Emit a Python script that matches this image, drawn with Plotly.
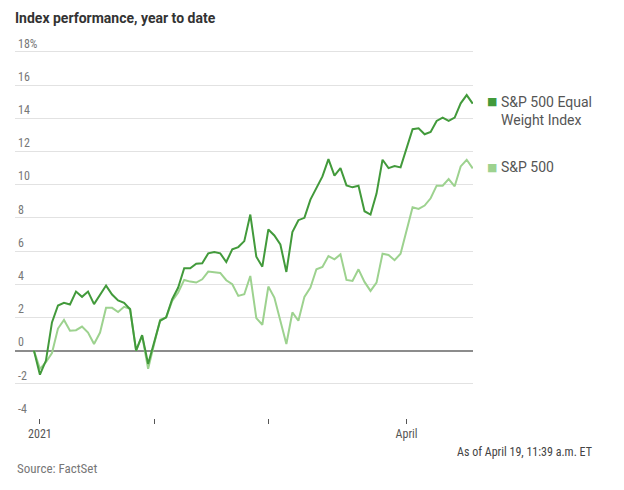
import plotly.graph_objects as go

# Trading-day index: 0 = Dec 31 2020 baseline, 73 = Apr 19 2021
day_index = list(range(74))

equal_weight = [0, -1.45, -0.6, 1.7, 2.72, 2.88, 2.78, 3.56, 3.24, 3.56,
                2.8, 3.34, 3.92, 3.38, 3.02, 2.88, 2.49, 0.0, 0.93, -0.8,
                0.45, 1.8, 2.0, 3.1, 3.8, 4.96, 4.96, 5.24, 5.26, 5.86,
                5.94, 5.86, 5.34, 6.1, 6.24, 6.6, 8.2, 5.66, 5.06, 7.3,
                6.94, 6.4, 4.74, 7.14, 7.86, 8.0, 9.1, 9.8, 10.5, 11.54,
                10.54, 11.0, 9.96, 9.84, 9.94, 8.4, 8.2, 9.46, 11.5, 11.0,
                11.12, 11.04, 12.2, 13.34, 13.4, 13.04, 13.18, 13.84, 14.04, 13.84,
                14.04, 14.9, 15.4, 14.88]

sp500 = [0, -1.1, -0.7, -0.15, 1.33, 1.85, 1.2, 1.23, 1.45, 1.09,
         0.4, 1.09, 2.58, 2.58, 2.33, 2.64, 2.52, 0.0, 0.9, -1.1,
         0.4, 1.86, 2.0, 3.0, 3.5, 4.26, 4.16, 4.1, 4.3, 4.76,
         4.72, 4.68, 4.24, 4.0, 3.3, 3.4, 4.5, 1.96, 1.56, 3.86,
         3.2, 1.8, 0.4, 2.3, 1.8, 3.24, 3.8, 4.9, 5.04, 5.7,
         5.5, 5.8, 4.26, 4.2, 4.9, 4.14, 3.6, 4.1, 5.84, 5.76,
         5.45, 5.84, 7.2, 8.64, 8.54, 8.74, 9.18, 9.94, 9.94, 10.34,
         9.9, 11.1, 11.5, 10.98]

series_names = ["S&P 500 Equal<br>Weight Index", "S&P 500"]
series_colors = ["#429a3b", "#9dd28f"]

x_tickvals = [1, 20, 39, 62]
x_ticktext = ["2021", "", "", "April"]
y_tickvals = [-4, -2, 0, 2, 4, 6, 8, 10, 12, 14, 16, 18]
y_ticktext = ["-4", "-2", "0", "2", "4", "6", "8", "10", "12", "14", "16", "18%"]

NARROW = "Liberation Sans Narrow, Roboto Condensed, Roboto, sans-serif"
SANS = "Roboto, Lato, sans-serif"

# The page body adds an 8px offset; size the figure so it fits the window.
W, H = 616, 482
PH = 386  # plot-area height in px

def py(y_win):
    """window pixel row -> paper y (plot bottom at window row 418)"""
    return (418 - y_win) / PH

def px(x_win):
    return (x_win - 15) / 458

fig = go.Figure()
fig.add_trace(go.Scatter(x=day_index, y=sp500, mode="lines",
                         line=dict(color=series_colors[1], width=2), showlegend=False,
                         cliponaxis=False))
fig.add_trace(go.Scatter(x=day_index, y=equal_weight, mode="lines",
                         line=dict(color=series_colors[0], width=2), showlegend=False,
                         cliponaxis=False))

fig.update_layout(
    width=W, height=H,
    margin=dict(l=7, r=151, t=24, b=72, autoexpand=False),
    paper_bgcolor="white", plot_bgcolor="white",
    title=dict(text="<b>Index performance, year to date</b>",
               x=7 / W, xanchor="left", xref="container",
               y=1 - 10 / H, yanchor="middle", yref="container",
               font=dict(family=SANS, size=14, color="#333333")),
    xaxis=dict(range=[-3.15, 73.05], tickvals=x_tickvals, ticktext=x_ticktext,
               showgrid=False, zeroline=False, showline=False, automargin=False,
               ticks="outside", ticklen=5, tickwidth=1, tickcolor="#555555",
               tickfont=dict(family=NARROW, size=12, color="#555555")),
    yaxis=dict(range=[-4.06, 19.2], tickvals=y_tickvals, ticktext=y_ticktext,
               showgrid=True, gridcolor="#e2e2e2", gridwidth=1, automargin=False,
               zeroline=True, zerolinecolor="#8c8c8c", zerolinewidth=2,
               showline=False, ticks="", ticklabelposition="inside top",
               tickfont=dict(family=NARROW, size=12, color="#777777")),
    showlegend=False,
)

# Legend as annotations
legend_rows = [111, 167]
square_rows = [102, 167]
for name, color, ty, sy in zip(series_names, series_colors, legend_rows, square_rows):
    fig.add_annotation(x=px(492), y=py(sy), xref="paper", yref="paper",
                       text="■", showarrow=False, xanchor="center", yanchor="middle",
                       font=dict(family="DejaVu Sans", size=11, color=color))
    fig.add_annotation(x=px(499), y=py(ty), xref="paper", yref="paper",
                       text=name, showarrow=False, xanchor="left", yanchor="middle",
                       align="left", font=dict(family=SANS, size=14, color="#555555"))

fig.add_annotation(x=px(594), y=py(452), xref="paper", yref="paper",
                   text="As of April 19, 11:39 a.m. ET", showarrow=False,
                   xanchor="right", yanchor="middle",
                   font=dict(family=NARROW, size=12, color="#444444"))
fig.add_annotation(x=0, y=py(468), xref="paper", yref="paper",
                   text="Source: FactSet", showarrow=False,
                   xanchor="left", yanchor="middle",
                   font=dict(family=NARROW, size=13, color="#777777"))

fig.write_html("out.html")
